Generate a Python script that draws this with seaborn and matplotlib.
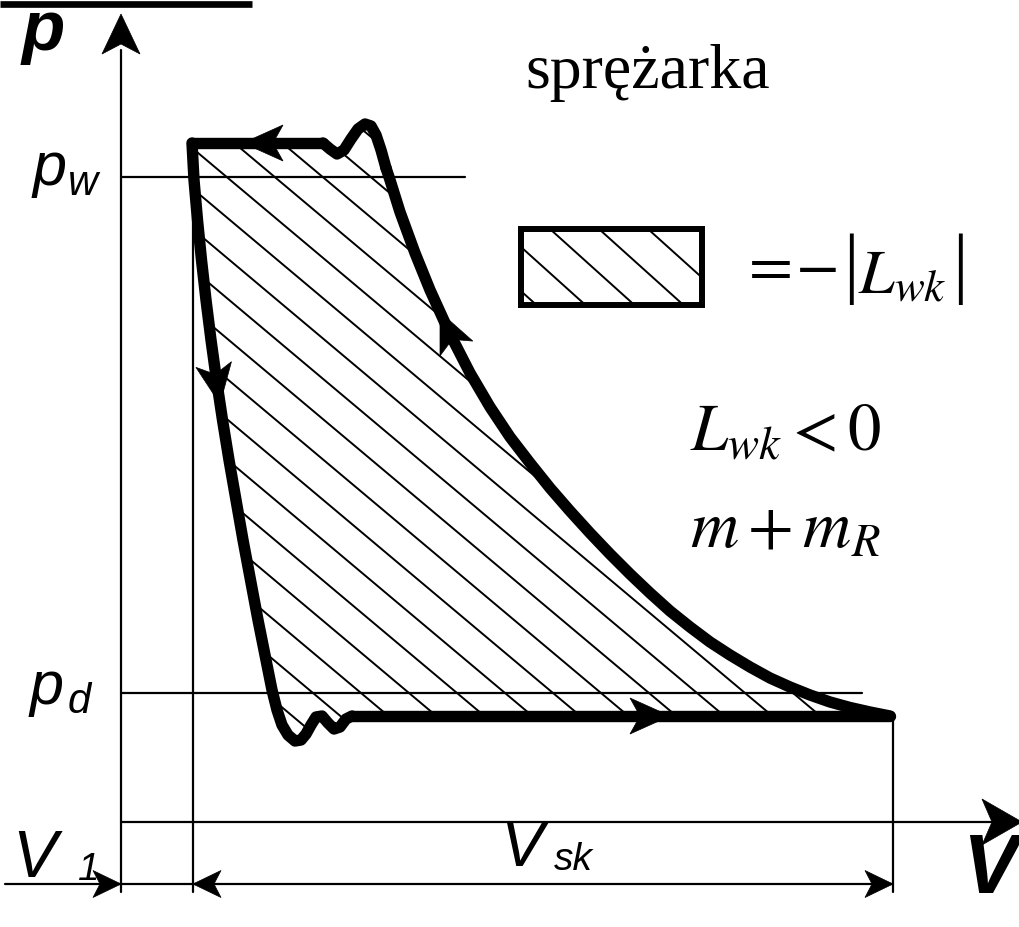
import numpy as np
import pandas as pd
import matplotlib
matplotlib.use("Agg")
import matplotlib.pyplot as plt
from matplotlib.patches import Polygon, Rectangle
import seaborn as sns

# Digitised compressor indicator diagram (drawing units: V to the right, p downward)
top_V = [192, 323]
top_p = [143, 143]
discharge_bump_V = [323, 330, 337, 344, 351, 358, 365, 371, 376, 381, 386]
discharge_bump_p = [143, 149, 154, 150, 139, 129, 124, 126, 135, 150, 168]
expansion_V = [192, 194, 197.5, 201.5, 206, 211, 216.5, 222.5, 229, 236, 243, 250.5,
               258, 266, 272, 277, 282, 288, 295, 301, 306, 311, 316, 322, 328,
               334, 340, 346, 352]
expansion_p = [143, 180, 220, 260, 300, 340, 380, 420, 460, 500, 540, 580,
               620, 660, 690, 710, 725, 735, 741, 740, 734, 725, 717, 716, 723,
               729, 727, 719, 716]
suction_V = [352, 890]
suction_p = [716, 716]
compression_V = [890, 870, 850, 830, 810, 790, 770, 750, 730, 710, 690, 670, 650,
                 630, 610, 590, 570, 550, 530, 510, 490, 470, 450, 430, 415, 400,
                 390, 386]
compression_p = [716, 712, 707.5, 702, 695, 687, 678, 667, 655, 642, 627, 611, 593,
                 574, 554, 533, 511, 488, 463, 437, 407, 373, 334, 290, 253, 212,
                 180, 168]

p_w_level = 177
p_d_level = 693
V_axis_level = 822
p_axis_V = 121
V_dead = 193
V_end = 893
dim_level = 884

sns.set_theme(style="white")
plt.rcParams["mathtext.fontset"] = "stix"
plt.rcParams["text.color"] = "black"

fig = plt.figure(figsize=(10.2, 9.27), dpi=100)
ax = fig.add_axes([0, 0, 1, 1])

K = "black"
thin = 1.6
thick = 8.2


def head(tip, direction, length=30, width=30):
    d = np.asarray(direction, float)
    d /= np.hypot(*d)
    n = np.array([-d[1], d[0]])
    tip = np.asarray(tip, float)
    base = tip - d * length
    notch = tip - d * length * 0.75
    pts = [tip, base + n * width / 2, notch, base - n * width / 2]
    ax.add_patch(Polygon(pts, closed=True, facecolor=K, edgecolor=K, lw=0.5, zorder=6))


# Hatched work area of the cycle
cyc_V = top_V[::-1] + expansion_V + suction_V + compression_V + discharge_bump_V[::-1]
cyc_p = top_p[::-1] + expansion_p + suction_p + compression_p + discharge_bump_p[::-1]
clip = Polygon(np.column_stack([cyc_V, cyc_p]), closed=True, facecolor="none", edgecolor="none")
ax.add_patch(clip)
slope = 0.84
spacing = 48
for k in range(-20, 20):
    x0 = 313 + spacing * k
    xs = np.array([x0 - 900, x0 + 900])
    ln, = ax.plot(xs, p_d_level + slope * (xs - x0), color=K, lw=1.4, zorder=2)
    ln.set_clip_path(clip)

# Cycle outline
segments = [
    (top_V, top_p),
    (discharge_bump_V, discharge_bump_p),
    (expansion_V, expansion_p),
    (suction_V, suction_p),
    (compression_V, compression_p),
]
for vv, pp in segments:
    df = pd.DataFrame({"V": vv, "p": pp})
    sns.lineplot(data=df, x="V", y="p", sort=False, estimator=None, ax=ax,
                 color=K, lw=thick, zorder=5)
for ln in ax.lines[-5:]:
    ln.set_solid_capstyle("round")
    ln.set_solid_joinstyle("round")

ax.set_xlim(0, 1020)
ax.set_ylim(927, 0)
ax.axis("off")

# Black rule at the top
ax.plot([0, 252], [4, 4], color=K, lw=4.8, solid_capstyle="butt")

# Axes of the diagram
ax.plot([p_axis_V, p_axis_V], [50, 892], color=K, lw=thin)
head((p_axis_V, 14), (0, -1), length=40, width=38)
ax.plot([p_axis_V, 995], [V_axis_level, V_axis_level], color=K, lw=thin)
head((1022, V_axis_level), (1, 0), length=40, width=46)

# Pressure levels
ax.plot([p_axis_V, 465], [p_w_level, p_w_level], color=K, lw=thin)
ax.plot([p_axis_V, 862], [p_d_level, p_d_level], color=K, lw=thin)

# Volume dimension lines
ax.plot([V_dead, V_dead], [143, 892], color=K, lw=thin)
ax.plot([V_end, V_end], [716, 892], color=K, lw=thin)
ax.plot([5, V_end], [dim_level, dim_level], color=K, lw=thin)
head((p_axis_V, dim_level), (1, 0), length=28, width=27)
head((V_dead, dim_level), (-1, 0), length=28, width=27)
head((V_end, dim_level), (1, 0), length=28, width=27)

# Direction arrows on the cycle
head((243, 143), (-1, 0), length=40, width=36)
head((220, 404), (0.16, 1), length=40, width=36)
head((440, 312), (-0.45, -1), length=40, width=36)
head((670, 716), (1, 0), length=40, width=36)

# Legend box
box = Rectangle((521, 229), 181, 76, facecolor="none", edgecolor=K, lw=4.3, zorder=5)
ax.add_patch(box)
for k in range(-6, 6):
    x0 = 550 + 49 * k
    xs = np.array([x0 - 200, x0 + 300])
    ln, = ax.plot(xs, 229 + 0.9 * (xs - x0), color=K, lw=1.4, zorder=3)
    ln.set_clip_path(box)

# Labels
sans_i = dict(family="Liberation Sans", style="italic", color=K)
ax.text(22, 50, "p", fontsize=51, weight="bold", **sans_i)
ax.text(33, 185, "p", fontsize=44, **sans_i)
ax.text(68, 195, "w", fontsize=30, **sans_i)
ax.text(30, 704, "p", fontsize=44, **sans_i)
ax.text(68, 713, "d", fontsize=30, **sans_i)
ax.text(12, 877, "V", fontsize=48, **sans_i)
ax.text(78, 880, "1", fontsize=28, **sans_i)
ax.text(500, 866, "V", fontsize=47, **sans_i)
ax.text(554, 870, "sk", fontsize=28, **sans_i)
ax.text(962, 893, "V", fontsize=60, weight="bold", **sans_i)

ax.text(525, 88, "sprężarka", fontsize=46, family="Liberation Serif", color=K)
serif = dict(family="Liberation Serif", color=K)
ax.text(739, 284, r"$=$", fontsize=46, color=K)
ax.text(795, 284, r"$-$", fontsize=46, color=K)
ax.text(843, 288, "|", fontsize=56, **serif)
ax.text(858, 293, r"$L_{wk}$", fontsize=46, color=K)
ax.text(952, 288, "|", fontsize=56, **serif)
ax.text(690, 450, r"$L_{wk} < 0$", fontsize=48, color=K)
ax.text(690, 547, r"$m + m_R$", fontsize=48, color=K)

fig.savefig("out.png", dpi=100)
